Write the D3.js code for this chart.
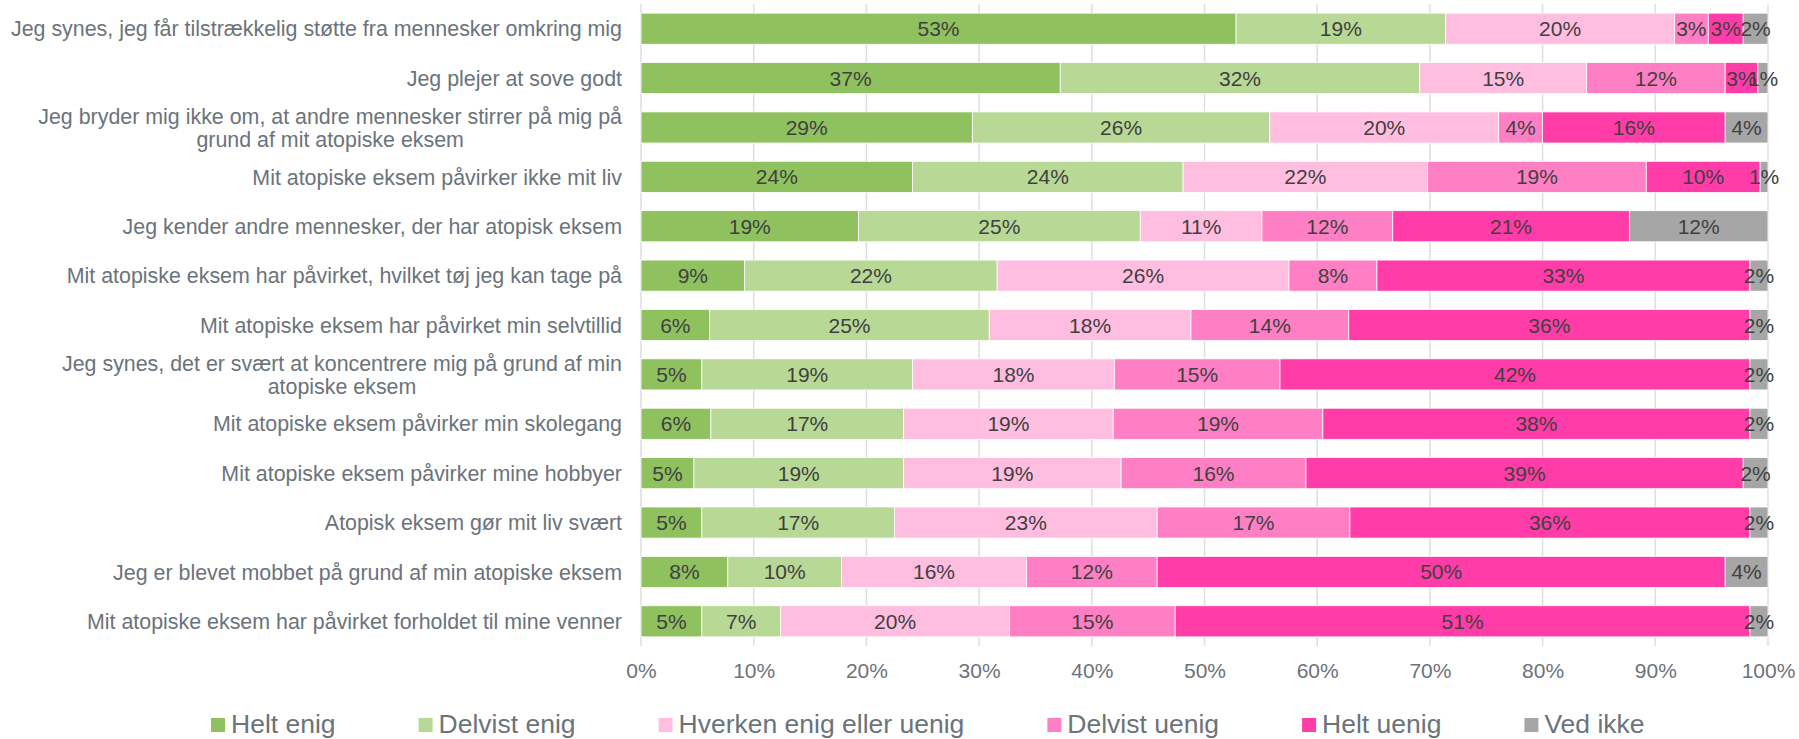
<!DOCTYPE html>
<html>
<head>
<meta charset="utf-8">
<script src="https://cdn.jsdelivr.net/npm/d3@7"></script>
<style>
  body { margin: 0; background: #fff; }
  svg { font-family: "Liberation Sans", Arial, sans-serif; }
</style>
</head>
<body>
<div id="canvas"></div>
<script>
const categories = [
  "Jeg synes, jeg får tilstrækkelig støtte fra mennesker omkring mig",
  "Jeg plejer at sove godt",
  "Jeg bryder mig ikke om, at andre mennesker stirrer på mig på grund af mit atopiske eksem",
  "Mit atopiske eksem påvirker ikke mit liv",
  "Jeg kender andre mennesker, der har atopisk eksem",
  "Mit atopiske eksem har påvirket, hvilket tøj jeg kan tage på",
  "Mit atopiske eksem har påvirket min selvtillid",
  "Jeg synes, det er svært at koncentrere mig på grund af min atopiske eksem",
  "Mit atopiske eksem påvirker min skolegang",
  "Mit atopiske eksem påvirker mine hobbyer",
  "Atopisk eksem gør mit liv svært",
  "Jeg er blevet mobbet på grund af min atopiske eksem",
  "Mit atopiske eksem har påvirket forholdet til mine venner"
];

const seriesNames = ["Helt enig", "Delvist enig", "Hverken enig eller uenig", "Delvist uenig", "Helt uenig", "Ved ikke"];
const seriesColors = ["#8fc15f", "#b8d895", "#ffbde0", "#ff7fc4", "#ff3ca8", "#a6a6a6"];

// one array per answer, in category order (share of respondents, %)
const heltEnig      = [52.8, 37.2, 29.4, 24.1, 19.3,  9.2,  6.1,  5.4,  6.2,  4.7,  5.4,  7.7,  5.4];
const delvistEnig   = [18.6, 31.9, 26.4, 24.0, 25.0, 22.4, 24.8, 18.7, 17.1, 18.6, 17.1, 10.1,  7.0];
const hverken       = [20.3, 14.8, 20.3, 21.7, 10.8, 25.9, 17.9, 17.9, 18.6, 19.3, 23.3, 16.4, 20.3];
const delvistUenig  = [ 3.0, 12.3,  3.9, 19.4, 11.6,  7.8, 14.0, 14.7, 18.6, 16.4, 17.1, 11.6, 14.7];
const heltUenig     = [ 3.1,  2.9, 16.2, 10.1, 21.0, 33.1, 35.6, 41.7, 37.9, 38.8, 35.5, 50.4, 51.0];
const vedIkke       = [ 2.2,  0.9,  3.8,  0.7, 12.3,  1.6,  1.6,  1.6,  1.6,  2.2,  1.6,  3.8,  1.6];

const xTicks = [0, 10, 20, 30, 40, 50, 60, 70, 80, 90, 100];

const series = [heltEnig, delvistEnig, hverken, delvistUenig, heltUenig, vedIkke];

const rows = categories.map((c, i) => {
  const r = { category: c };
  seriesNames.forEach((s, j) => { r[s] = series[j][i]; });
  return r;
});

const width = 1799;
const height = 739;
const margin = { top: 4, left: 641, bottom: 93, right: 31 };
const iwidth = width - margin.left - margin.right;
const iheight = height - margin.top - margin.bottom;

const svg = d3.select("#canvas").append("svg")
  .attr("width", width)
  .attr("height", height);

const g = svg.append("g").attr("transform", `translate(${margin.left},${margin.top})`);

const x = d3.scaleLinear().domain([0, 100]).range([0, iwidth]);
const y = d3.scaleBand()
  .domain(categories)
  .range([0, iheight])
  .paddingInner(0.37)
  .paddingOuter(0.185);

// gridlines
g.append("g")
  .selectAll("line")
  .data(xTicks)
  .enter().append("line")
  .attr("x1", d => x(d)).attr("x2", d => x(d))
  .attr("y1", 0).attr("y2", iheight)
  .attr("stroke", "#dedede")
  .attr("stroke-width", 1.5);

const stacked = d3.stack().keys(seriesNames)(rows);

const layers = g.selectAll(".layer").data(stacked)
  .enter().append("g")
  .attr("class", "layer")
  .attr("fill", (d, i) => seriesColors[i]);

layers.selectAll("rect")
  .data(d => d)
  .enter().append("rect")
  .attr("x", d => x(d[0]))
  .attr("y", d => y(d.data.category))
  .attr("width", d => x(d[1]) - x(d[0]))
  .attr("height", y.bandwidth())
  .attr("stroke", "#fff")
  .attr("stroke-width", 0.8);

const fmt = d3.format(".0f");

layers.selectAll("text")
  .data(d => d)
  .enter().append("text")
  .attr("x", d => (x(d[0]) + x(d[1])) / 2)
  .attr("y", d => y(d.data.category) + y.bandwidth() / 2)
  .attr("dy", "0.36em")
  .attr("text-anchor", "middle")
  .attr("fill", "#404040")
  .style("font-size", "21px")
  .text(d => fmt(d[1] - d[0]) + "%");

// x axis labels
const xAxis = g.append("g")
  .attr("transform", `translate(0, ${iheight})`)
  .call(d3.axisBottom(x).tickValues(xTicks).tickFormat(d => d + "%").tickSize(0).tickPadding(17));
xAxis.select(".domain").remove();
xAxis.selectAll("text")
  .attr("fill", "#6b737b")
  .style("font-size", "21px")
  .style("font-family", "'Liberation Sans', Arial, sans-serif");

// category labels, wrapped and centred like the original
const labelX = -19;
const maxW = 628;
const lineH = 23;

const yLabels = g.append("g");
categories.forEach(c => {
  const t = yLabels.append("text")
    .attr("fill", "#6b737b")
    .style("font-size", "21.4px");
  const words = c.split(" ");
  let lines = [];
  let line = [];
  words.forEach(w => {
    line.push(w);
    t.text(line.join(" "));
    if (t.node().getComputedTextLength() > maxW && line.length > 1) {
      line.pop();
      lines.push(line.join(" "));
      line = [w];
    }
  });
  lines.push(line.join(" "));
  t.text(null);

  const cy = y(c) + y.bandwidth() / 2;
  if (lines.length === 1) {
    t.attr("text-anchor", "end")
      .append("tspan")
      .attr("x", labelX)
      .attr("y", cy)
      .attr("dy", "0.36em")
      .text(lines[0]);
  } else {
    // measure widest line, centre the block under it
    const widths = lines.map(l => { t.text(l); return t.node().getComputedTextLength(); });
    t.text(null);
    const wmax = d3.max(widths);
    t.attr("text-anchor", "middle");
    lines.forEach((l, k) => {
      t.append("tspan")
        .attr("x", labelX - wmax / 2)
        .attr("y", cy + (k - (lines.length - 1) / 2) * lineH)
        .attr("dy", "0.36em")
        .text(l);
    });
  }
});

// legend
const legend = svg.append("g").attr("transform", "translate(211, 718)");
let lx = 0;
seriesNames.forEach((s, i) => {
  const item = legend.append("g").attr("transform", `translate(${lx}, 0)`);
  item.append("rect")
    .attr("width", 14).attr("height", 14)
    .attr("fill", seriesColors[i]);
  const txt = item.append("text")
    .attr("x", 20)
    .attr("y", 15)
    .attr("fill", "#6b737b")
    .style("font-size", "26.5px")
    .text(s);
  lx += 20 + txt.node().getComputedTextLength() + 83;
});
</script>
</body>
</html>
